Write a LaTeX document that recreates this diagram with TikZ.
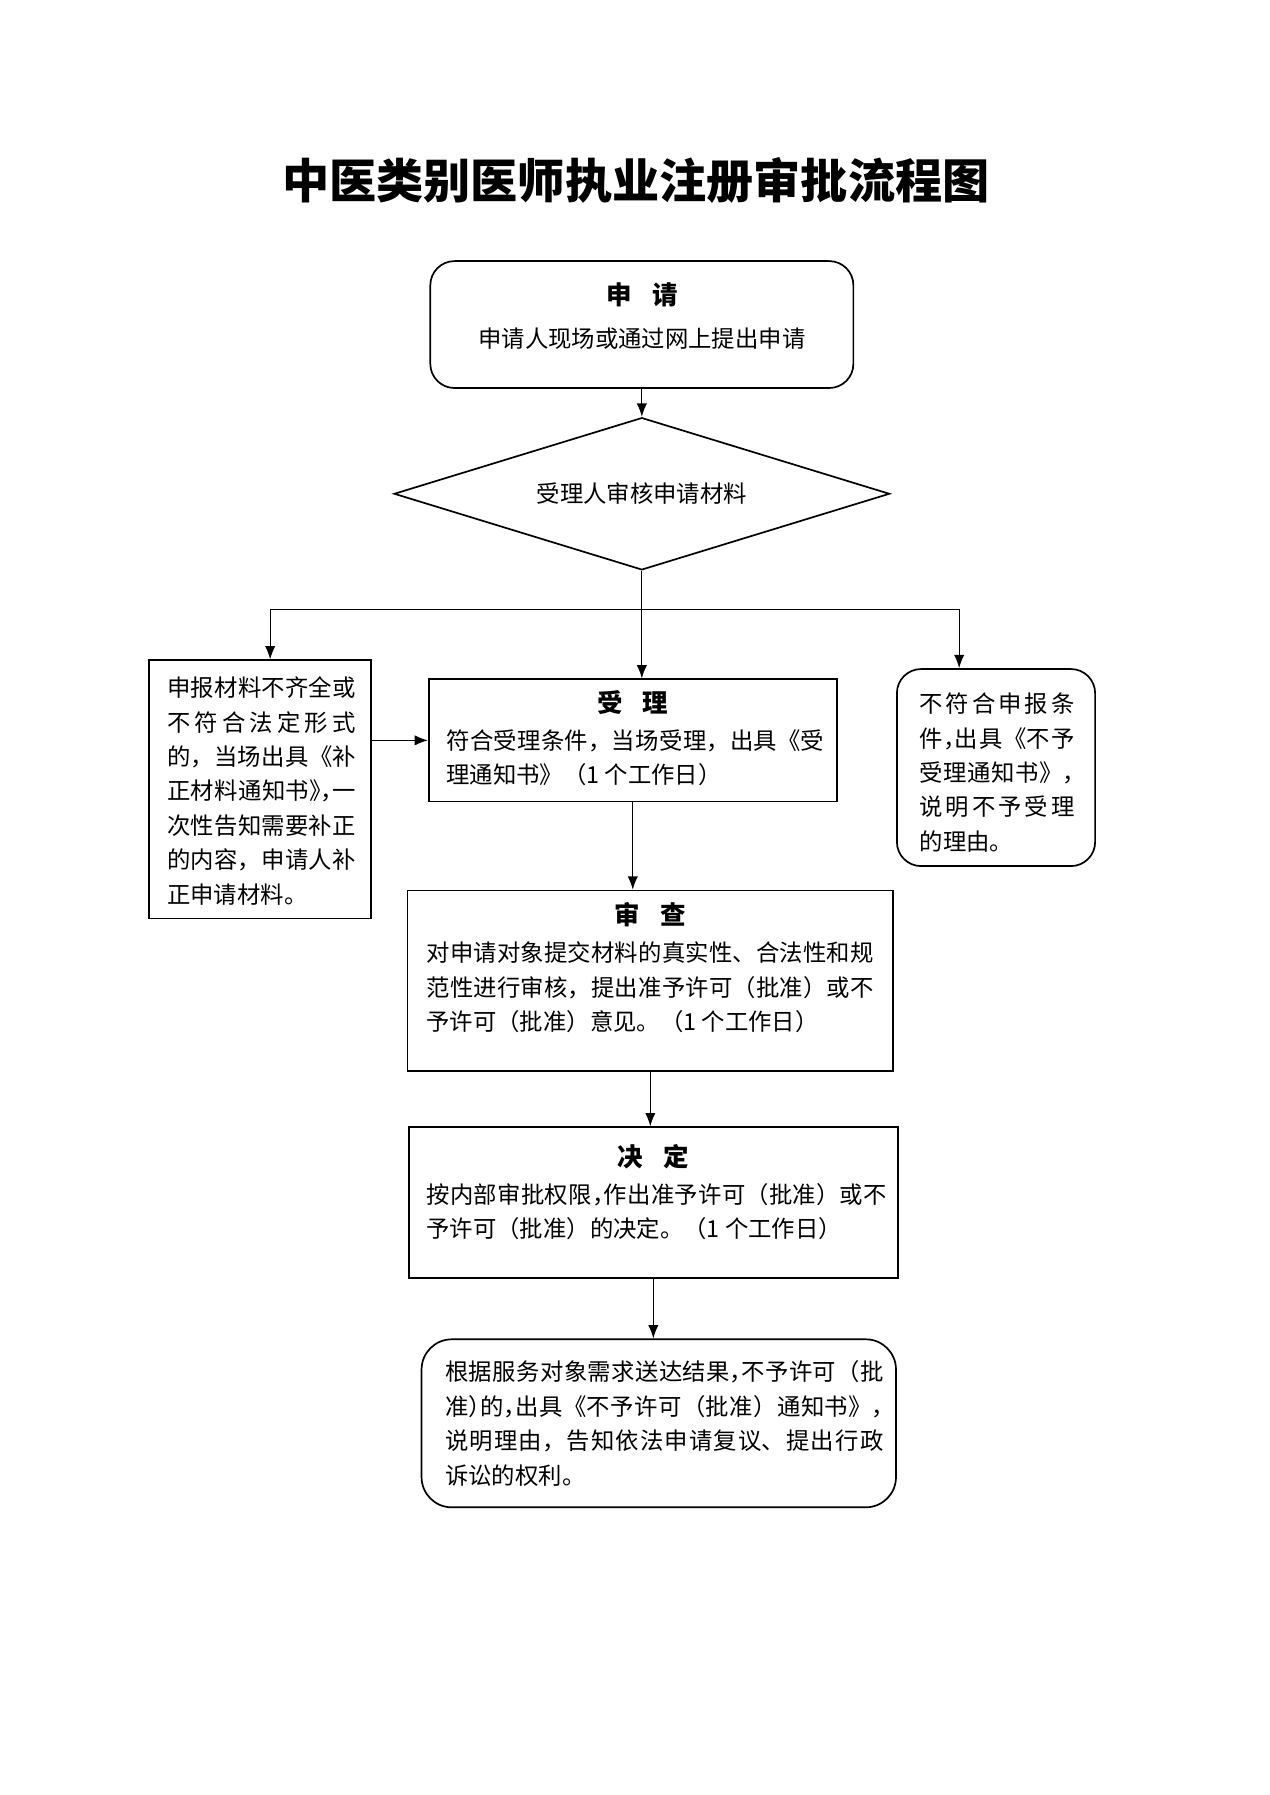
\documentclass[tikz,border=0pt]{standalone}
\usepackage{fontspec}
\setmainfont{Noto Sans CJK SC}
\usetikzlibrary{shapes.geometric,arrows.meta}
\XeTeXlinebreaklocale "zh"
\XeTeXlinebreakskip=0pt plus 2pt
\tolerance=9999
\newcommand{\hw}[1]{{\addfontfeature{RawFeature=+halt}#1}}

\tikzset{
  box/.style={draw, thick, inner sep=0pt},
  head/.style={font=\fontsize{12pt}{14pt}\selectfont\bfseries},
  txt/.style={font=\fontsize{11pt}{16.2pt}\selectfont, align=justify, inner sep=0pt, anchor=north west},
}

\begin{document}
\begin{tikzpicture}[>={Latex[length=2.2mm,width=1.7mm]}]

\fill [white] (0,0) rectangle (21,-29.7);

\node (title) at (10.52,-2.98) [font=\fontsize{22.2pt}{27pt}\selectfont\bfseries] {中医类别医师执业注册审批流程图};

\node (apply) at (10.62,-5.37) [box, rounded corners=0.4cm, minimum width=7cm, minimum height=2.1cm] {};
\node (applyhead) at (10.62,-4.88) [head] {申\hspace{0.8em}请};
\node (applytext) at (10.62,-5.61) [font=\fontsize{11pt}{16.2pt}\selectfont] {申请人现场或通过网上提出申请};

\node (check) at (10.62,-8.17) [draw, thick, diamond, aspect=3.25, minimum width=8.2cm, minimum height=2.52cm, inner sep=0pt, font=\fontsize{11pt}{16.2pt}\selectfont] {受理人审核申请材料};
\draw [->, semithick] (apply) -- (check);

\coordinate (brL) at (4.47,-10.08);
\coordinate (brR) at (15.87,-10.08);
\draw [semithick] (brL) -- (brR);

\node (accept) at (10.47,-12.25) [box, minimum width=6.75cm, minimum height=2.02cm] {};
\node (accepthead) at (10.47,-11.63) [head] {受\hspace{0.8em}理};
\node (accepttext) at (7.38,-12.06) [txt, text width=6.25cm] {符合受理条件，当场受理，出具《受\linebreak 理通知书》（1 个工作日）};
\draw [->, semithick] (check.south) -- (check.south |- accept.north);

\node (lack) at (4.30,-13.06) [box, minimum width=3.67cm, minimum height=4.27cm] {};
\node (lacktext) at (2.76,-11.19) [txt, text width=3.12cm] {申报材料不齐全或\linebreak 不符合法定形式\linebreak 的，当场出具《补\linebreak 正材料通知书\hw{》}\hw{，}一\linebreak 次性告知需要补正\linebreak 的内容，申请人补\linebreak 正申请材料。};
\draw [->, semithick] (brL) -- (brL |- lack.north);
\draw [->, semithick] (lack.east |- accept.west) -- (accept.west);

\node (refuse) at (16.48,-12.70) [box, rounded corners=0.4cm, minimum width=3.28cm, minimum height=3.26cm] {};
\node (refusetext) at (15.21,-11.46) [txt, text width=2.56cm] {不符合申报条\linebreak 件\hw{，}出具《不予\linebreak 受理通知书》\hw{，}\linebreak 说明不予受理\linebreak 的理由。};
\draw [->, semithick] (brR) -- (brR |- refuse.north);

\node (review) at (10.76,-16.23) [box, minimum width=8.04cm, minimum height=2.99cm] {};
\node (reviewhead) at (10.76,-15.14) [head] {审\hspace{0.8em}查};
\node (reviewtext) at (7.05,-15.58) [txt, text width=7.4cm] {对申请对象提交材料的真实性、合法性和规\linebreak 范性进行审核，提出准予许可（批准）或不\linebreak 予许可（批准）意见。（1 个工作日）};
\draw [->, semithick] (accept.south) -- (accept.south |- review.north);

\node (decide) at (10.81,-19.90) [box, minimum width=8.09cm, minimum height=2.5cm] {};
\node (decidehead) at (10.81,-19.13) [head] {决\hspace{0.8em}定};
\node (decidetext) at (7.05,-19.57) [txt, text width=7.62cm] {按内部审批权限\hw{，}作出准予许可（批准）或不\linebreak 予许可（批准）的决定。（1 个工作日）};
\draw [->, semithick] (review.south) -- (review.south |- decide.north);

\node (notify) at (10.90,-23.55) [box, rounded corners=0.5cm, minimum width=7.85cm, minimum height=2.78cm] {};
\node (notifytext) at (7.36,-22.51) [txt, text width=7.25cm] {根据服务对象需求送达结果\hw{，}不予许可（批\linebreak 准\hw{）}的\hw{，}出具《不予许可（批准）通知书》\hw{，}\linebreak 说明理由，告知依法申请复议、提出行政\linebreak 诉讼的权利。};
\draw [->, semithick] (decide.south) -- (decide.south |- notify.north);

\end{tikzpicture}
\end{document}
